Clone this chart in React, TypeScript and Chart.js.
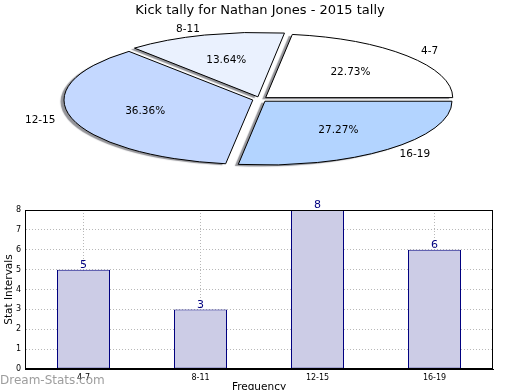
import React, { useEffect, useRef } from 'react';
import { Chart, registerables } from 'chart.js';
Chart.register(...registerables);

const FONT = "'DejaVu Sans', sans-serif";
Chart.defaults.font.family = FONT;

// ---- data ----
const categories = ['4-7', '8-11', '12-15', '16-19'];
const counts = [5, 3, 8, 6];
const yTickMax = 8;
const yTickStep = 1;
const pieColors = ['#ffffff', '#eaf1fe', '#c4d8ff', '#b3d4ff'];
const titleText = 'Kick tally for Nathan Jones - 2015 tally';
const yTitle = 'Stat Intervals';
const xTitle = 'Frequency';
const watermark = 'Dream-Stats.com';

// ---- pie geometry (styling) ----
const PIE_CX = 260;
const PIE_CY = 99.3;
const PIE_RX = 187;
const PIE_RY = 63.8;
const EXPLODE = 0.04;
const PIE_R = 60;

const total = counts.reduce((a, b) => a + b, 0);

const ellipsePie = {
  id: 'ellipsePie',
  beforeDatasetsDraw(chart: any) {
    const ctx = chart.ctx;
    const arc = chart.getDatasetMeta(0).data[0];
    const { x, y, outerRadius } = arc.getProps(['x', 'y', 'outerRadius'], true);
    ctx.save();
    ctx.translate(PIE_CX, PIE_CY);
    ctx.scale(PIE_RX / outerRadius, PIE_RY / outerRadius);
    ctx.translate(-x, -y);
    ctx.shadowColor = 'rgba(40,40,50,0.5)';
    ctx.shadowOffsetX = -3.5;
    ctx.shadowOffsetY = 1.5;
    ctx.shadowBlur = 1;
    const dpr = chart.currentDevicePixelRatio || 1;
    const proto = Object.getPrototypeOf(ctx);
    const origStroke = proto.stroke;
    ctx.stroke = function (...args: any[]) {
      this.save();
      this.setTransform(dpr, 0, 0, dpr, 0, 0);
      this.shadowColor = 'rgba(0,0,0,0)';
      origStroke.apply(this, args);
      this.restore();
    };
  },
  afterDatasetsDraw(chart: any) {
    const ctx = chart.ctx;
    delete ctx.stroke;
    ctx.restore();
    const meta = chart.getDatasetMeta(0);
    const ds = chart.data.datasets[0];
    ctx.save();
    ctx.fillStyle = '#000';
    ctx.font = `10.5px ${FONT}`;
    ctx.textBaseline = 'middle';
    meta.data.forEach((el: any, i: number) => {
      const { startAngle, endAngle } = el.getProps(['startAngle', 'endAngle'], true);
      const h = (startAngle + endAngle) / 2;
      const c = Math.cos(h);
      const s = Math.sin(h);
      const lx = PIE_CX + (EXPLODE + 1.1) * PIE_RX * c;
      const ly = PIE_CY + (EXPLODE + 1.1) * PIE_RY * s;
      ctx.textAlign = c > 0 ? 'left' : 'right';
      ctx.fillText(chart.data.labels[i], lx, ly);
      const px = PIE_CX + (EXPLODE + 0.6) * PIE_RX * c;
      const py = PIE_CY + (EXPLODE + 0.6) * PIE_RY * s;
      ctx.textAlign = 'center';
      const pct = ((ds.data[i] / total) * 100).toFixed(2) + '%';
      ctx.fillText(pct, px, py);
    });
    ctx.restore();
  },
};

const barExtras = {
  id: 'barExtras',
  afterDraw(chart: any) {
    const ctx = chart.ctx;
    const { left, top, right, bottom } = chart.chartArea;
    ctx.save();
    ctx.strokeStyle = '#000';
    ctx.lineWidth = 1;
    ctx.strokeRect(Math.round(left) + 0.5, Math.round(top) + 0.5, Math.round(right - left) - 1, Math.round(bottom - top) - 1);
    const meta = chart.getDatasetMeta(0);
    const ds = chart.data.datasets[0];
    ctx.fillStyle = '#000080';
    ctx.font = `11px ${FONT}`;
    ctx.textAlign = 'center';
    ctx.textBaseline = 'bottom';
    meta.data.forEach((el: any, i: number) => {
      ctx.fillText(String(ds.data[i]), el.x, el.y + 1);
    });
    ctx.restore();
  },
};

export default function App() {
  const pieRef = useRef<HTMLCanvasElement>(null);
  const barRef = useRef<HTMLCanvasElement>(null);

  useEffect(() => {
    const pieLabels = [...categories].reverse();
    const pieData = [...counts].reverse();
    const pieBg = [...pieColors].reverse();
    const pie = new Chart(pieRef.current!, {
      type: 'pie',
      data: {
        labels: pieLabels,
        datasets: [
          {
            data: pieData,
            backgroundColor: pieBg,
            borderColor: '#000',
            borderWidth: 1,
            borderJoinStyle: 'miter',
            offset: 4 * EXPLODE * PIE_R,
            radius: PIE_R,
            clip: false,
          } as any,
        ],
      },
      options: {
        animation: false,
        responsive: false,
        events: [],
        rotation: 90,
        layout: { padding: 0 },
        plugins: {
          legend: { display: false },
          tooltip: { enabled: false },
          title: {
            display: true,
            text: titleText,
            color: '#000',
            font: { size: 13, weight: 'normal', family: FONT },
            padding: { top: 3, bottom: 3 },
          },
        },
      } as any,
      plugins: [ellipsePie],
    });

    const bar = new Chart(barRef.current!, {
      type: 'bar',
      data: {
        labels: categories,
        datasets: [
          {
            data: counts,
            backgroundColor: '#ccccE6',
            borderColor: '#000080',
            borderWidth: 1,
            borderSkipped: false,
            barPercentage: 0.453,
            categoryPercentage: 1,
          },
        ],
      },
      options: {
        animation: false,
        responsive: false,
        events: [],
        layout: { padding: { top: 10, right: 27, left: 0, bottom: 0 } },
        plugins: { legend: { display: false }, tooltip: { enabled: false } },
        scales: {
          x: {
            z: 1,
            grid: { offset: false, color: '#b8b8b8', drawTicks: false, lineWidth: 1 },
            border: { display: true, color: '#000', dash: [1, 2] },
            ticks: { font: { size: 8, family: FONT }, color: '#000', padding: 4 },
            title: { display: true, text: xTitle, color: '#000', font: { size: 10.5, family: FONT, lineHeight: 0.5 }, padding: 0 },
            afterFit: (s: any) => {
              s.height = 21;
            },
          },
          y: {
            z: 1,
            min: 0,
            max: yTickMax,
            grid: { color: '#b8b8b8', drawTicks: false, lineWidth: 1 },
            border: { display: true, color: '#000', dash: [1, 2] },
            ticks: { stepSize: yTickStep, font: { size: 8, family: FONT }, color: '#000', padding: 4 },
            title: { display: true, text: yTitle, color: '#000', font: { size: 10.5, family: FONT, lineHeight: 1 }, padding: { top: 4, bottom: 0 } },
            afterFit: (s: any) => {
              s.width = 25;
            },
          },
        },
      } as any,
      plugins: [barExtras],
    });

    return () => {
      pie.destroy();
      bar.destroy();
    };
  }, []);

  return (
    <div style={{ position: 'fixed', left: 0, top: 0, width: 520, height: 390, background: '#fff', overflow: 'hidden' }}>
      <canvas ref={pieRef} width={520} height={200} style={{ position: 'absolute', left: 0, top: 0, width: 520, height: 200 }} />
      <canvas ref={barRef} width={520} height={190} style={{ position: 'absolute', left: 0, top: 200, width: 520, height: 190 }} />
      <div
        style={{
          position: 'absolute',
          left: 0,
          top: 373,
          font: `12px ${FONT}`,
          color: 'rgba(140,140,140,0.85)',
          whiteSpace: 'nowrap',
          lineHeight: '14px',
        }}
      >
        {watermark}
      </div>
    </div>
  );
}
